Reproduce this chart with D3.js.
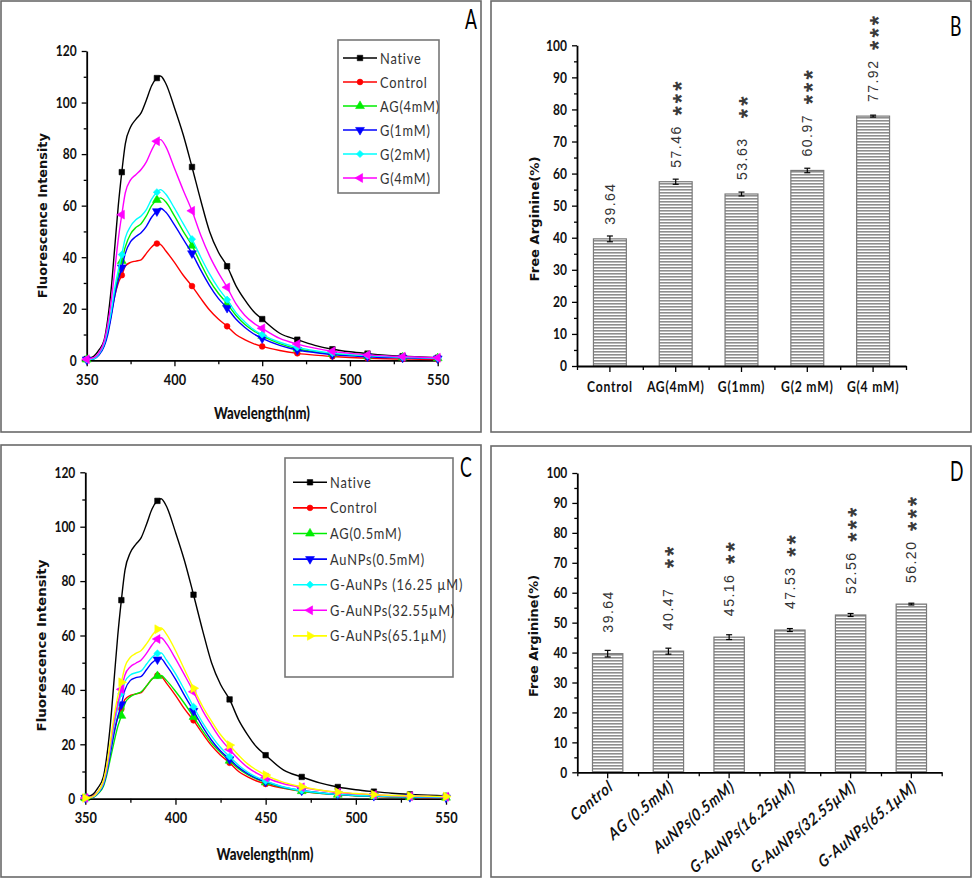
<!DOCTYPE html>
<html><head><meta charset="utf-8">
<script src="https://cdn.jsdelivr.net/npm/d3@7"></script>
<style>
body{margin:0;background:#fff;}
svg{display:block;}
</style></head><body>
<svg id="c" width="974" height="880"></svg>
<script>
// ---------------- DATA ----------------
const wavelengths = [350,354,357,360,362,364,366,368,370,372,375,378,381,384,387,390,392,395,400,405,410,415,420,425,430,435,440,445,450,460,470,480,490,500,510,520,530,540,550];
const markerWavelengths = [350,370,390,410,430,450,470,490,510,530,550];

const nativeI  = [0.5,1.5,4,8,16,28,44,60,73,84,90.5,93.5,96,101,106.5,109.5,110.3,107.5,98,87.5,75,62,50,42,36.5,29,23.5,19,16,10.5,8,5.8,4.3,3.3,2.6,2.0,1.6,1.3,1.0];
const controlI = [0.3,0.8,2.5,6,11,18,25,30,33,36.5,38,38.5,39,41.5,44,45.3,45,42.5,38,33,28.8,24,19.5,16,13.2,10,8,6.5,5.4,3.8,2.7,2.0,1.5,1.1,0.8,0.6,0.5,0.4,0.3];
const ag4I     = [0.3,0.6,2.5,6,11,18,26,33,38.5,44,49,51.5,53,56,60,62.2,63,61.5,56,50,44.5,37.5,31,26,22,17.5,14,11.5,9.5,6.5,4.5,3.3,2.5,2.0,1.6,1.3,1.1,0.9,0.8];
const g1I      = [0.3,0.5,2,5.5,10,17,25,31,36,41.5,46,48,49.5,52,55.5,57.8,59,57.5,52.5,47,41.5,35,29,24,20.3,16,12.8,10.3,8.5,5.8,4.0,3.0,2.2,1.7,1.4,1.1,1.0,0.8,0.7];
const g2I      = [0.3,0.6,2.5,6.5,12,19,28,35,41,47.5,52,54.5,56,58.5,62.5,65.2,66.2,64.5,59,53,47,40,33.5,28,23.5,18.5,15,12,10,7,5,3.7,2.8,2.2,1.8,1.5,1.2,1.0,0.8];
const g4I      = [0.4,1.0,3,7.5,14,23,35,47,56.5,65,70,72,74,77,81.5,85,85.6,83,74.5,66,58,48.5,40.5,34,28.3,22,17.5,14.5,12.4,8.5,6.3,4.7,3.5,2.7,2.1,1.7,1.4,1.2,1.0];

const ag05I    = [0.2,0.4,1.8,4.5,9,15,21,26.5,30.5,35,37.5,38.5,39.3,41.5,44,45.1,45.3,43.5,39.5,35,30.1,25,20.5,17,14,11,8.8,7.2,6,4,2.8,2.0,1.5,1.1,0.9,0.7,0.6,0.5,0.4];
const aunpI    = [0.3,0.5,2,5,10,17,24,30,34.7,40,43.5,44.5,45,47.5,50,51.2,51.5,49,44,38,32.3,26.5,21.5,17.5,14.5,11.5,9.2,7.5,6.3,4.2,3.0,2.2,1.6,1.2,1.0,0.8,0.6,0.5,0.4];
const gau16I   = [0.3,0.6,2.2,5.5,11,19,27,33.5,38.7,43,45.5,46.3,47,49.5,52,53.4,53.6,51,46,40,33.8,28,23,18.8,15.5,12.3,9.8,7.9,6.5,4.3,3.0,2.2,1.6,1.2,1.0,0.8,0.7,0.6,0.5];
const gau32I   = [0.3,0.7,2.5,6,11.5,20,28.5,35,40.2,45.5,48.5,49.8,51,53.5,56.5,58.7,59.2,57,51.5,45.5,39.3,32.5,27,22,18.1,14.5,11.5,9.4,7.8,5.5,4.2,3.1,2.3,1.8,1.4,1.1,0.9,0.8,0.7];
const gau65I   = [0.3,0.7,2.5,6.5,12.5,21.5,30.5,37.5,42.8,48.5,52,53.4,54.5,57,60,62.3,62.8,60.5,54.5,47.5,40.6,34,28.5,23.5,19.7,16,12.8,10.5,8.7,6,4.4,3.2,2.4,1.9,1.5,1.2,1.0,0.9,0.8];

const seriesNamesA = ["Native","Control","AG(4mM)","G(1mM)","G(2mM)","G(4mM)"];
const seriesNamesC = ["Native","Control","AG(0.5mM)","AuNPs(0.5mM)","G-AuNPs (16.25 \u00b5M)","G-AuNPs(32.55\u00b5M)","G-AuNPs(65.1\u00b5M)"];

const xTicksSpec = [350,400,450,500,550];
const xMinorSpec = [375,425,475,525];
const yTicksSpec = [0,20,40,60,80,100,120];
const yMinorSpec = [10,30,50,70,90,110];

const catsB   = ["Control","AG(4mM)","G(1mm)","G(2 mM)","G(4 mM)"];
const valuesB = [39.64,57.46,53.63,60.97,77.92];
const errB    = [0.9,0.8,0.6,0.7,0.3];
const labelsB = ["39.64","57.46","53.63","60.97","77.92"];
const starsB  = [""," ***","  **"," ***"," ***"];

const catsD   = ["Control","AG (0.5mM)","AuNPs(0.5mM)","G-AuNPs(16.25\u00b5M)","G-AuNPs(32.55\u00b5M)","G-AuNPs(65.1\u00b5M)"];
const valuesD = [39.64,40.47,45.16,47.53,52.56,56.20];
const errD    = [1.1,1.0,0.8,0.5,0.5,0.3];
const labelsD = ["39.64","40.47","45.16","47.53","52.56","56.20"];
const starsD  = ["","  **"," **"," **"," ***"," ***"];

const yTicksBar = [0,10,20,30,40,50,60,70,80,90,100];
const yMinorBar = [5,15,25,35,45,55,65,75,85,95];

// ---------------- STYLE ----------------
const colorsA = ["#000000","#ff0000","#00ee00","#0000ff","#00ffff","#ff00ff"];
const symbolsA = ["square","circle","triUp","triDown","diamond","triLeft"];
const colorsC = ["#000000","#ff0000","#00ee00","#0000ff","#00ffff","#ff00ff","#ffff00"];
const symbolsC = ["square","circle","triUp","triDown","diamond","triLeft","triRight"];

const svg = d3.select('#c');
const FN = "Lato,'Open Sans',sans-serif";
const FW = "'DejaVu Sans',Verdana,sans-serif";

function condense(sel, f){
  sel.each(function(){
    const w = this.getComputedTextLength();
    d3.select(this).attr('textLength', w*f).attr('lengthAdjust','spacingAndGlyphs');
  });
}

const defs = svg.append('defs');
const pat = defs.append('pattern').attr('id','hatch').attr('patternUnits','userSpaceOnUse')
  .attr('width',6).attr('height',3);
pat.append('rect').attr('width',6).attr('height',3).attr('fill','#ffffff');
pat.append('rect').attr('width',6).attr('height',1.6).attr('fill','#8e8e8e');

// frames
[[1,1,480,431],[491,1,480,431],[1,445,480,432],[491,446,480,431]].forEach(r=>{
  svg.append('rect').attr('x',r[0]).attr('y',r[1]).attr('width',r[2]).attr('height',r[3])
    .attr('fill','none').attr('stroke','#6a6a6a').attr('stroke-width',1.6);
});

function symPath(type){
  const map = {
    square:[d3.symbolSquare,30,0], circle:[d3.symbolCircle,26,0],
    triUp:[d3.symbolTriangle,34,0], triDown:[d3.symbolTriangle,34,180],
    diamond:[d3.symbolSquare,26,45], triLeft:[d3.symbolTriangle,34,-90], triRight:[d3.symbolTriangle,34,90]
  };
  return map[type];
}
function drawSym(g,type,cx,cy,color){
  const m = symPath(type);
  g.append('path').attr('d',d3.symbol().type(m[0]).size(m[1])())
    .attr('transform',`translate(${cx},${cy}) rotate(${m[2]})`).attr('fill',color).attr('stroke',color).attr('stroke-width',0.6);
}

function styleAxis(sel,fs,f){
  sel.select('.domain').attr('stroke','#000').attr('stroke-width',1.8);
  sel.selectAll('.tick line').attr('stroke','#000').attr('stroke-width',1.3);
  const t = sel.selectAll('.tick text').attr('fill','#111').style('font-family',FN).style('font-weight','bold').style('font-size',fs+'px');
  if(f) condense(t,f);
}

function panelLetter(g,x,y,letter){
  const t = g.append('text').attr('x',x).attr('y',y).text(letter)
    .style('font-family',FN).style('font-size','26px').attr('fill','#000');
  condense(t,0.68);
}

function drawSpectrum(p){
  const g = svg.append('g');
  const x = d3.scaleLinear().domain([350,550]).range([p.left,p.right]);
  const y = d3.scaleLinear().domain([0,120]).range([p.bottom,p.top]);
  const mx = g.append('g').attr('transform',`translate(0,${p.bottom})`)
    .call(d3.axisBottom(x).tickValues(xMinorSpec).tickSize(4).tickFormat('').tickSizeOuter(0));
  mx.select('.domain').remove(); styleAxis(mx,15);
  const my = g.append('g').attr('transform',`translate(${p.left},0)`)
    .call(d3.axisLeft(y).tickValues(yMinorSpec).tickSize(3).tickFormat('').tickSizeOuter(0));
  my.select('.domain').remove(); styleAxis(my,15);
  const ax = g.append('g').attr('transform',`translate(0,${p.bottom})`)
    .call(d3.axisBottom(x).tickValues(xTicksSpec).tickSize(6).tickPadding(7).tickSizeOuter(0));
  styleAxis(ax,16,0.8);
  const ay = g.append('g').attr('transform',`translate(${p.left},0)`)
    .call(d3.axisLeft(y).tickValues(yTicksSpec).tickSize(5).tickPadding(5).tickSizeOuter(0));
  styleAxis(ay,15,0.8);

  const line = d3.line().x(d=>x(d[0])).y(d=>y(d[1])).curve(d3.curveMonotoneX);
  p.series.forEach((vals,i)=>{
    const pts = wavelengths.map((w,j)=>[w,vals[j]]);
    g.append('path').datum(pts).attr('d',line).attr('fill','none')
      .attr('stroke',p.colors[i]).attr('stroke-width',1.4);
    pts.filter(d=>markerWavelengths.includes(d[0])).forEach(d=>drawSym(g,p.symbols[i],x(d[0]),y(d[1]),p.colors[i]));
  });

  // legend
  const lg = g.append('g');
  lg.append('rect').attr('x',p.leg.x).attr('y',p.leg.y).attr('width',p.leg.w).attr('height',p.leg.h)
    .attr('fill','#fff').attr('stroke','#777').attr('stroke-width',1.6);
  p.names.forEach((n,i)=>{
    const yy = p.leg.y0 + i*p.leg.dy;
    lg.append('line').attr('x1',p.leg.lx0).attr('x2',p.leg.lx1).attr('y1',yy).attr('y2',yy)
      .attr('stroke',p.colors[i]).attr('stroke-width',1.6);
    drawSym(lg,p.symbols[i],(p.leg.lx0+p.leg.lx1)/2,yy,p.colors[i]);
    const t = lg.append('text').attr('x',p.leg.lx1+3).attr('y',yy+5.5).text(n)
      .style('font-family',FN).style('font-size','16px').style('letter-spacing','1px').attr('fill','#333');
    condense(t,0.8);
  });

  // titles
  g.append('text').attr('transform',`translate(${p.ytx},${(p.top+p.bottom)/2+10}) rotate(-90)`)
    .attr('text-anchor','middle').text('Fluorescence Intensity')
    .attr('textLength',p.ytl).attr('lengthAdjust','spacingAndGlyphs')
    .style('font-family',FW).style('font-weight','bold').style('font-size','12.5px').attr('fill','#111');
  g.append('text').attr('x',p.xtx).attr('y',p.xty).attr('text-anchor','middle').text('Wavelength(nm)')
    .attr('textLength',p.xtl).attr('lengthAdjust','spacingAndGlyphs')
    .style('font-family',FN).style('font-weight','900').style('font-size','17px').attr('fill','#111');
  panelLetter(g,p.lx,p.ly,p.letter);
}

function drawBars(p){
  const g = svg.append('g');
  const x = d3.scaleBand().domain(p.cats).range([p.left,p.right]).paddingInner(0.5).paddingOuter(0.25);
  const y = d3.scaleLinear().domain([0,100]).range([p.bottom,p.top]);

  // bars
  p.values.forEach((v,i)=>{
    g.append('rect').attr('x',x(p.cats[i])).attr('y',y(v)).attr('width',x.bandwidth()).attr('height',y(0)-y(v))
      .attr('fill','url(#hatch)').attr('stroke','#7a7a7a').attr('stroke-width',1.2);
  });

  // axes
  const my = g.append('g').attr('transform',`translate(${p.left},0)`)
    .call(d3.axisLeft(y).tickValues(yMinorBar).tickSize(3).tickFormat('').tickSizeOuter(0));
  my.select('.domain').remove(); styleAxis(my,15);
  const ay = g.append('g').attr('transform',`translate(${p.left},0)`)
    .call(d3.axisLeft(y).tickValues(yTicksBar).tickSize(5).tickPadding(5).tickSizeOuter(0));
  styleAxis(ay,15,0.8);
  const idx = d3.scaleLinear().domain([0,p.cats.length]).range([p.left,p.right]);
  const mx = g.append('g').attr('transform',`translate(0,${p.bottom})`)
    .call(d3.axisBottom(idx).tickValues(d3.range(p.cats.length+1)).tickSize(4).tickFormat('').tickSizeOuter(0));
  styleAxis(mx,15);
  const ax = g.append('g').attr('transform',`translate(0,${p.bottom})`)
    .call(d3.axisBottom(x).tickSize(6).tickPadding(p.rotate?8:9).tickSizeOuter(0));
  ax.select('.domain').remove();
  styleAxis(ax,16);
  const tt = ax.selectAll('.tick text').style('letter-spacing','1px');
  if(p.rotate){
    tt.attr('text-anchor','end').attr('dy',null).attr('y',null)
      .attr('transform','translate(6,17) rotate(-40) skewX(-14)').style('font-size','16px');
    condense(tt,0.84);
  } else {
    condense(tt,0.76);
  }

  // error bars
  p.values.forEach((v,i)=>{
    const cx = x(p.cats[i]) + x.bandwidth()/2, e = p.errs[i];
    g.append('line').attr('x1',cx).attr('x2',cx).attr('y1',y(v-e)).attr('y2',y(v+e)).attr('stroke','#000').attr('stroke-width',1.2);
    [v-e,v+e].forEach(t=>g.append('line').attr('x1',cx-3).attr('x2',cx+3).attr('y1',y(t)).attr('y2',y(t)).attr('stroke','#000').attr('stroke-width',1.2));
  });

  // value labels
  p.labels.forEach((lab,i)=>{
    const cx = x(p.cats[i]) + x.bandwidth()/2 + 5;
    const t = g.append('text').attr('transform',`translate(${cx},${y(p.values[i]) - p.gap}) rotate(-90)`)
      .style('font-family',"'Liberation Sans',Arial,sans-serif").style('fill','#333').style('white-space','pre');
    t.append('tspan').text(lab).style('font-size','14px').style('letter-spacing','1.5px');
    if(p.stars[i]) t.append('tspan').attr('dy',9).text(p.stars[i])
      .style('font-size','24px').style('font-weight','bold').style('letter-spacing','3px').style('fill','#3a3a3a');
  });

  g.append('text').attr('transform',`translate(${p.ytx},${p.yty}) rotate(-90)`)
    .attr('text-anchor','middle').text('Free Arginine(%)')
    .attr('textLength',p.ytl).attr('lengthAdjust','spacingAndGlyphs')
    .style('font-family',FW).style('font-weight','bold').style('font-size','12.5px').attr('fill','#111');
  panelLetter(g,p.lx,p.ly,p.letter);
}

drawSpectrum({left:86.7,right:437.7,top:51,bottom:360.3,
  series:[nativeI,controlI,ag4I,g1I,g2I,g4I],names:seriesNamesA,colors:colorsA,symbols:symbolsA,
  leg:{x:338,y:40,w:101,h:153,y0:58,dy:24,lx0:343,lx1:377},
  ytx:47,ytl:165,xtx:262,xty:419,xtl:96,lx:465,ly:29,letter:'A'});

drawSpectrum({left:85.3,right:446,top:472.3,bottom:798.7,
  series:[nativeI,controlI,ag05I,aunpI,gau16I,gau32I,gau65I],names:seriesNamesC,colors:colorsC,symbols:symbolsC,
  leg:{x:285,y:458,w:168,h:219,y0:482.3,dy:25.6,lx0:293,lx1:327},
  ytx:46,ytl:172,xtx:265,xty:860,xtl:97,lx:460,ly:477,letter:'C'});

drawBars({left:577,right:906,top:45.3,bottom:366,cats:catsB,values:valuesB,errs:errB,labels:labelsB,stars:starsB,
  gap:14,rotate:false,ytx:539,yty:219,ytl:125,lx:950,ly:36,letter:'B'});

drawBars({left:577.3,right:941.7,top:473,bottom:772.3,cats:catsD,values:valuesD,errs:errD,labels:labelsD,stars:starsD,
  gap:21,rotate:true,ytx:538,yty:636,ytl:122,lx:950,ly:481,letter:'D'});
</script>
</body></html>
